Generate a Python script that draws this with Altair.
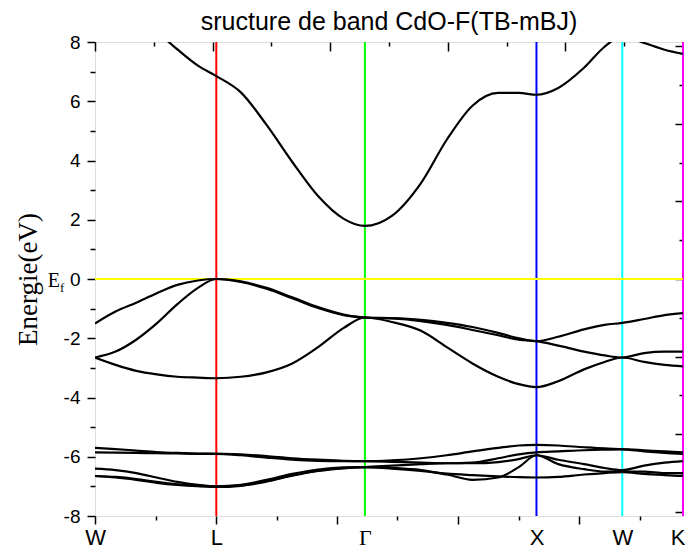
import altair as alt
import pandas as pd
import json

TITLE = "sructure de band CdO-F(TB-mBJ)"
Y_TITLE = "Energie(eV)"

# high-symmetry points (path length in 2pi/a units)
SYM_LABELS = ["W", "L", "Γ", "X", "W", "K"]
SYM_K = [0.0, 0.707, 1.573, 2.573, 3.073, 3.427]
LINE_COLORS = ["#ff0000", "#00ff00", "#0000ff", "#00ffff", "#ff00ff"]

# k grid shared by all bands
K_GRID = [0.0, 0.12, 0.24, 0.36, 0.48, 0.6, 0.707,
          0.85, 1.0, 1.15, 1.3, 1.45, 1.573,
          1.73, 1.9, 2.05, 2.2, 2.35, 2.47, 2.573,
          2.7, 2.85, 2.97, 3.073,
          3.2, 3.32, 3.427]

C1 = [9.6, 9.3, 8.9, 8.35, 7.75, 7.2, 6.85,
      6.3, 5.2, 3.95, 2.8, 2.03, 1.79,
      2.13, 3.24, 4.7, 5.85, 6.28, 6.28, 6.22,
      6.45, 7.13, 7.84, 8.2,
      7.97, 7.74, 7.6]
V1 = [-1.5, -1.1, -0.8, -0.48, -0.2, -0.05, 0.0,
      -0.08, -0.3, -0.62, -0.95, -1.2, -1.3,
      -1.32, -1.38, -1.48, -1.62, -1.82, -2.0, -2.1,
      -1.95, -1.7, -1.55, -1.48,
      -1.35, -1.22, -1.15]
V2 = [-2.65, -2.45, -2.05, -1.5, -0.85, -0.3, 0.0,
      -0.1, -0.33, -0.65, -0.98, -1.22, -1.3,
      -1.33, -1.42, -1.55, -1.72, -1.9, -2.05, -2.1,
      -2.25, -2.45, -2.58, -2.65,
      -2.5, -2.45, -2.45]
V3 = [-2.65, -2.9, -3.1, -3.22, -3.3, -3.33, -3.35,
      -3.3, -3.15, -2.85, -2.3, -1.65, -1.3,
      -1.45, -1.75, -2.3, -2.85, -3.3, -3.55, -3.65,
      -3.45, -3.05, -2.8, -2.65,
      -2.8, -2.9, -2.95]
D1 = [-5.7, -5.74, -5.79, -5.84, -5.87, -5.89, -5.9,
      -5.92, -5.98, -6.05, -6.1, -6.14, -6.15,
      -6.12, -6.05, -5.95, -5.82, -5.7, -5.62, -5.6,
      -5.62, -5.68, -5.72, -5.74,
      -5.78, -5.82, -5.85]
D2 = [-5.85, -5.86, -5.87, -5.88, -5.89, -5.9, -5.9,
      -5.95, -6.03, -6.1, -6.14, -6.15, -6.15,
      -6.17, -6.2, -6.22, -6.2, -6.05, -5.92, -5.85,
      -5.82, -5.78, -5.76, -5.75,
      -5.82, -5.87, -5.9]
D3 = [-6.4, -6.45, -6.55, -6.7, -6.85, -6.95, -7.0,
      -6.95, -6.78, -6.58, -6.43, -6.36, -6.35,
      -6.3, -6.25, -6.22, -6.22, -6.18, -6.08, -5.95,
      -6.1, -6.25, -6.38, -6.45,
      -6.3, -6.2, -6.15]
D4 = [-6.65, -6.68, -6.75, -6.85, -6.93, -6.98, -7.0,
      -6.97, -6.82, -6.62, -6.47, -6.38, -6.35,
      -6.38, -6.45, -6.6, -6.78, -6.7, -6.35, -5.95,
      -6.25, -6.42, -6.5, -6.5,
      -6.5, -6.55, -6.55]
D5 = [-6.65, -6.7, -6.78, -6.88, -6.95, -6.99, -7.02,
      -6.98, -6.84, -6.64, -6.48, -6.39, -6.35,
      -6.4, -6.48, -6.57, -6.62, -6.66, -6.69, -6.7,
      -6.68, -6.6, -6.55, -6.52,
      -6.58, -6.62, -6.65]

BANDS = {"C1": C1, "V1": V1, "V2": V2, "V3": V3,
         "D1": D1, "D2": D2, "D3": D3, "D4": D4, "D5": D5}

# axis ticks
Y_MAJOR = [-8, -6, -4, -2, 0, 2, 4, 6, 8]
Y_MINOR = [-7, -5, -3, -1, 1, 3, 5, 7]
BOTTOM_MAJOR = [0.0, 0.705, 1.409, 2.116, 2.821]
BOTTOM_MINOR = [0.353, 1.058, 1.760, 2.470, 3.174]
TOP_MAJOR = [0.0, 0.6854, 1.3708, 2.0562, 2.7416]
TOP_MINOR = [0.3427, 1.0281, 1.7135, 2.3989, 3.0843]
RIGHT_MAJOR = [-7.85, -5.23, -2.62, 0.0, 2.62, 5.23, 7.85]
RIGHT_MINOR = [-6.54, -3.92, -1.31, 1.31, 3.92, 6.54]

X_DOMAIN = [0.0, 3.427]
Y_DOMAIN = [-8, 8]

FONT = "Liberation Sans"
SERIF = "Liberation Serif"

rows = []
for name, vals in BANDS.items():
    for i, (k, e) in enumerate(zip(K_GRID, vals)):
        rows.append({"band": name, "k": k, "E": e, "i": i})
df = pd.DataFrame(rows)

xs = alt.Scale(domain=X_DOMAIN, nice=False, zero=False)
ys = alt.Scale(domain=Y_DOMAIN, nice=False, zero=False)

label_expr = (json.dumps(SYM_LABELS, ensure_ascii=False)
              + "[indexof(" + json.dumps(SYM_K) + ", datum.value)]")
last_k = SYM_K[-1]

sym_df = pd.DataFrame({"k": SYM_K[1:], "name": [f"p{i}" for i in range(1, len(SYM_K))]})

sym_lines = alt.Chart(sym_df).mark_rule(strokeWidth=2).encode(
    x=alt.X("k:Q", scale=xs, axis=None),
    color=alt.Color("name:N", scale=alt.Scale(domain=list(sym_df["name"]), range=LINE_COLORS), legend=None),
)

fermi = alt.Chart(pd.DataFrame({"E": [0.0]})).mark_rule(color="#ffff00", strokeWidth=2.2).encode(
    y=alt.Y("E:Q", scale=ys, axis=None)
)

bands = alt.Chart(df).mark_line(color="black", strokeWidth=2.2, clip=True, interpolate="monotone").encode(
    x=alt.X("k:Q", scale=xs, axis=alt.Axis(
        orient="bottom", values=SYM_K, labelExpr=label_expr, ticks=False, domain=False, grid=False,
        title=None, labelFontSize=22,
        labelFont={"condition": {"test": "datum.value == 1.573", "value": SERIF}, "value": FONT},
        labelAlign={"condition": {"test": f"datum.value == {last_k}", "value": "right"}, "value": "center"},
        labelOffset={"condition": {"test": f"datum.value == {last_k}", "value": 2}, "value": 0},
        labelPadding=11, labelColor="black", labelFlush=False, labelOverlap=False)),
    y=alt.Y("E:Q", scale=ys, axis=alt.Axis(
        orient="left", values=Y_MAJOR, tickSize=8, tickWidth=1.5, tickColor="black",
        labelExpr="replace(datum.label, '\u2212', '-')",
        labelFontSize=19, labelFont=FONT, labelPadding=7, labelColor="black",
        domain=False, grid=False, title=Y_TITLE, titleFont=SERIF, titleFontSize=27,
        titleFontWeight="normal", titleColor="black", titlePadding=21, labelFlush=False)),
    detail="band:N",
    order="i:Q",
)


def tick_layer(values, channel, orient, size, inward=False):
    d = pd.DataFrame({"v": values})
    ax = alt.Axis(orient=orient, values=values, labels=False, domain=False, grid=False, title=None,
                  tickColor="black", tickWidth=1.5,
                  tickSize=({"expr": str(-size)} if inward else size))
    ch = (alt.X("v:Q", scale=xs, axis=ax) if channel == "x" else alt.Y("v:Q", scale=ys, axis=ax))
    return alt.Chart(d).mark_point(opacity=0).encode(**{channel: ch})


ef_df = pd.DataFrame({"k": [0.0], "E": [0.0]})
ef_E = alt.Chart(ef_df).mark_text(text="E", font=SERIF, fontSize=20, align="right",
                                   baseline="alphabetic", dx=-35, dy=8, color="black").encode(
    x=alt.X("k:Q", scale=xs, axis=None), y=alt.Y("E:Q", scale=ys, axis=None))
ef_f = alt.Chart(ef_df).mark_text(text="f", font=SERIF, fontSize=13, align="left",
                                   baseline="alphabetic", dx=-35, dy=13, color="black").encode(
    x=alt.X("k:Q", scale=xs, axis=None), y=alt.Y("E:Q", scale=ys, axis=None))

chart = alt.layer(
    sym_lines, fermi, bands,
    tick_layer(Y_MINOR, "y", "left", 5),
    tick_layer(BOTTOM_MAJOR, "x", "bottom", 8),
    tick_layer(BOTTOM_MINOR, "x", "bottom", 4),
    tick_layer(TOP_MAJOR, "x", "top", 9, True),
    tick_layer(TOP_MINOR, "x", "top", 4, True),
    tick_layer(RIGHT_MAJOR, "y", "right", 8, True),
    tick_layer(RIGHT_MINOR, "y", "right", 4, True),
    ef_E, ef_f,
).resolve_scale(x="independent", y="independent").properties(
    width=588, height=474,
    title=alt.TitleParams(TITLE, font=FONT, fontSize=25, fontWeight="normal", color="black",
                          anchor="middle", offset=-2),
    autosize=alt.AutoSizeParams(type="none"),
    padding={"left": 87, "top": 34, "right": 2, "bottom": 32},
).configure_view(stroke="black", strokeWidth=1.5).configure(background="white")

chart.save("out.html", embed_options={"renderer": "svg", "actions": False})
